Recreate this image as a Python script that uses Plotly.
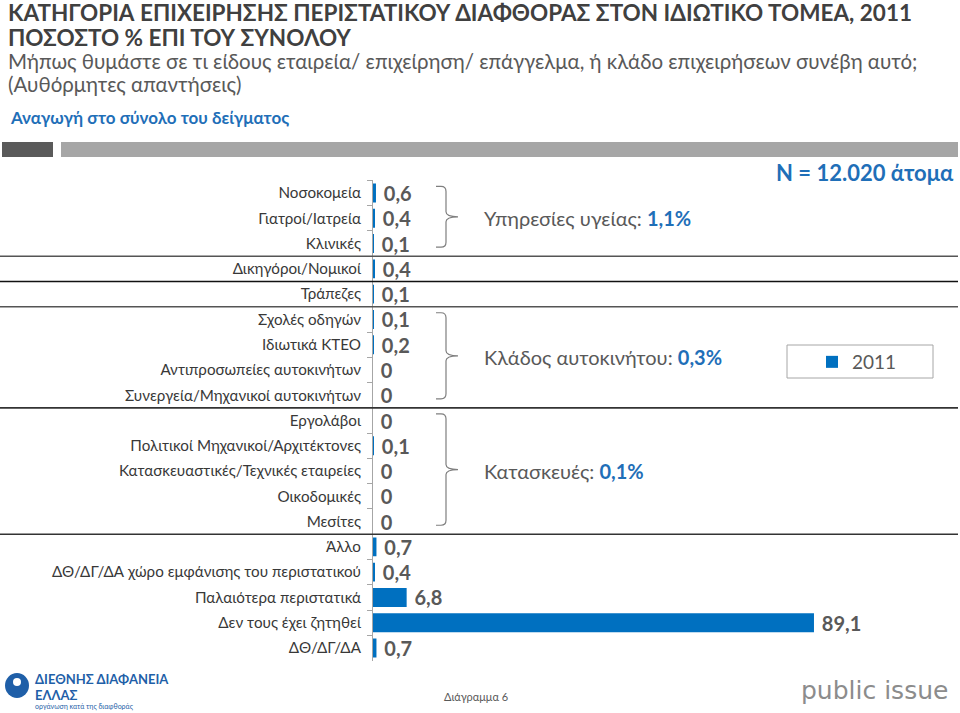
import plotly.graph_objects as go

categories = [
    "Νοσοκομεία", "Γιατροί/Ιατρεία", "Κλινικές", "Δικηγόροι/Νομικοί", "Τράπεζες",
    "Σχολές οδηγών", "Ιδιωτικά ΚΤΕΟ", "Αντιπροσωπείες αυτοκινήτων",
    "Συνεργεία/Μηχανικοί αυτοκινήτων", "Εργολάβοι", "Πολιτικοί Μηχανικοί/Αρχιτέκτονες",
    "Κατασκευαστικές/Τεχνικές εταιρείες", "Οικοδομικές", "Μεσίτες", "Άλλο",
    "ΔΘ/ΔΓ/ΔΑ χώρο εμφάνισης του περιστατικού", "Παλαιότερα περιστατικά",
    "Δεν τους έχει ζητηθεί", "ΔΘ/ΔΓ/ΔΑ",
]
values_2011 = [0.6, 0.4, 0.1, 0.4, 0.1, 0.1, 0.2, 0, 0, 0, 0.1, 0, 0, 0, 0.7, 0.4, 6.8, 89.1, 0.7]
series_name = "2011"

groups = [
    # (first row, last row, label, total)
    (0, 2, "Υπηρεσίες υγείας: ", "1,1%"),
    (5, 8, "Κλάδος αυτοκινήτου: ", "0,3%"),
    (9, 13, "Κατασκευές: ", "0,1%"),
]
separators = [2.5, 3.5, 4.5, 8.5, 13.5]
separator_colors = ["#555555", "#111111", "#555555", "#333333", "#333333"]

W, H = 960, 713
FONT = "Lato"
BLUE = "#0070C0"
GREY = "#595959"

# layout geometry (pixels)
TOP, BOT = 180.4, 660.6
X0, X1 = 373, 958
n = len(categories)
rowh = (BOT - TOP) / n


def px(x):
    return x / W


def py(y):
    return 1 - y / H


def fmt(v):
    return "0" if v == 0 else f"{v:.1f}".replace(".", ",")


fig = go.Figure()
fig.add_trace(go.Bar(
    y=categories, x=values_2011, orientation="h", name=series_name,
    marker=dict(color=BLUE, line=dict(width=0)),
    text=["\u00a0" + fmt(v) for v in values_2011], textposition="outside",
    textfont=dict(family=FONT, size=20, color=GREY, weight="bold"),
    constraintext="none", cliponaxis=False,
))

shapes = []
# top grey bars
shapes.append(dict(type="rect", xref="paper", yref="paper", x0=px(2), x1=px(53),
                   y0=py(157), y1=py(142), fillcolor="#5A5A5A", line=dict(width=0)))
shapes.append(dict(type="rect", xref="paper", yref="paper", x0=px(61), x1=px(958),
                   y0=py(157), y1=py(142), fillcolor="#A6A6A6", line=dict(width=0)))
# separators
for s, c in zip(separators, separator_colors):
    shapes.append(dict(type="line", xref="paper", yref="y", x0=0, x1=px(958), y0=s, y1=s,
                       line=dict(color=c, width=1.6)))

annotations = []
# braces
for (r0, r1, lab, tot) in groups:
    yt = TOP + r0 * rowh + 6
    yb = TOP + (r1 + 1) * rowh - 9
    ym = (yt + yb) / 2
    xa, xb, xt = 436, 446, 458
    r = 5
    pts = (f"M {px(xa)},{py(yt)} L {px(xb - r)},{py(yt)} "
           f"Q {px(xb)},{py(yt)} {px(xb)},{py(yt + r)} "
           f"L {px(xb)},{py(ym - r)} Q {px(xb)},{py(ym)} {px(xt)},{py(ym)} "
           f"Q {px(xb)},{py(ym)} {px(xb)},{py(ym + r)} "
           f"L {px(xb)},{py(yb - r)} Q {px(xb)},{py(yb)} {px(xb - r)},{py(yb)} "
           f"L {px(xa)},{py(yb)}")
    shapes.append(dict(type="path", xref="paper", yref="paper", path=pts,
                       line=dict(color="#7F7F7F", width=1.2)))
    annotations.append(dict(xref="paper", yref="paper", x=px(482), y=py(ym + 1),
                            xanchor="left", yanchor="middle", showarrow=False,
                            text=f"{lab}<span style='color:#1F6FB8;font-weight:bold'>{tot}</span>",
                            font=dict(family=FONT, size=20, color=GREY)))

# legend frame
shapes.append(dict(type="rect", xref="paper", yref="paper", x0=px(787), x1=px(933),
                   y0=py(378), y1=py(345), line=dict(color="#A6A6A6", width=1),
                   fillcolor="white", layer="below"))

# titles
annotations += [
    dict(xref="paper", yref="paper", x=px(6), y=py(12), xanchor="left", yanchor="middle",
         text="<b>ΚΑΤΗΓΟΡΙΑ ΕΠΙΧΕΙΡΗΣΗΣ ΠΕΡΙΣΤΑΤΙΚΟΥ ΔΙΑΦΘΟΡΑΣ ΣΤΟΝ ΙΔΙΩΤΙΚΟ ΤΟΜΕΑ, 2011</b>",
         showarrow=False, font=dict(family=FONT, size=22.5, color="#404040")),
    dict(xref="paper", yref="paper", x=px(6), y=py(38), xanchor="left", yanchor="middle",
         text="<b>ΠΟΣΟΣΤΟ % ΕΠΙ ΤΟΥ ΣΥΝΟΛΟΥ</b>",
         showarrow=False, font=dict(family=FONT, size=22.5, color="#404040")),
    dict(xref="paper", yref="paper", x=px(6), y=py(61), xanchor="left", yanchor="middle",
         text="Μήπως θυμάστε σε τι είδους εταιρεία/ επιχείρηση/ επάγγελμα, ή κλάδο επιχειρήσεων συνέβη αυτό;",
         showarrow=False, font=dict(family=FONT, size=20.5, color=GREY)),
    dict(xref="paper", yref="paper", x=px(6), y=py(84), xanchor="left", yanchor="middle",
         text="(Αυθόρμητες απαντήσεις)",
         showarrow=False, font=dict(family=FONT, size=20.5, color=GREY)),
    dict(xref="paper", yref="paper", x=px(8), y=py(118), xanchor="left", yanchor="middle",
         text="<b>Αναγωγή στο σύνολο του δείγματος</b>",
         showarrow=False, font=dict(family=FONT, size=17, color="#1F6FB8")),
    dict(xref="paper", yref="paper", x=px(956), y=py(172), xanchor="right", yanchor="middle",
         text="<b>N = 12.020 άτομα</b>",
         showarrow=False, font=dict(family=FONT, size=22, color="#1F6FB8")),
    dict(xref="paper", yref="paper", x=px(476), y=py(696), xanchor="center", yanchor="middle",
         text="Διάγραμμα 6", showarrow=False, font=dict(family=FONT, size=11, color=GREY)),
    dict(xref="paper", yref="paper", x=px(33), y=py(679), xanchor="left", yanchor="middle",
         text="<b>ΔΙΕΘΝΗΣ ΔΙΑΦΑΝΕΙΑ</b>", showarrow=False,
         font=dict(family=FONT, size=13, color="#1F5FA8")),
    dict(xref="paper", yref="paper", x=px(33), y=py(694.5), xanchor="left", yanchor="middle",
         text="<b>ΕΛΛΑΣ</b>", showarrow=False,
         font=dict(family=FONT, size=13, color="#1F5FA8")),
    dict(xref="paper", yref="paper", x=px(33), y=py(706.5), xanchor="left", yanchor="middle",
         text="οργάνωση κατά της διαφθοράς", showarrow=False,
         font=dict(family=FONT, size=7, color="#1F5FA8")),
    dict(xref="paper", yref="paper", x=px(950), y=py(690), xanchor="right", yanchor="middle",
         text="public issue", showarrow=False,
         font=dict(family="DejaVu Sans", size=25, color="#8C8C8C")),
]
# logo circle
shapes.append(dict(type="circle", xref="paper", yref="paper", x0=px(5), x1=px(29),
                   y0=py(698), y1=py(673), fillcolor="#1F5FA8", line=dict(width=0)))
shapes.append(dict(type="circle", xref="paper", yref="paper", x0=px(13), x1=px(21),
                   y0=py(686), y1=py(678), fillcolor="white", line=dict(width=0)))

fig.update_layout(
    width=W, height=H, margin=dict(l=0, r=0, t=0, b=0),
    paper_bgcolor="white", plot_bgcolor="white",
    bargap=0.25, showlegend=True,
    legend=dict(x=px(812), y=py(362), xanchor="left", yanchor="middle",
                bgcolor="rgba(0,0,0,0)", borderwidth=0,
                font=dict(family=FONT, size=19, color=GREY),
                itemwidth=30),
    xaxis=dict(domain=[px(X0), px(X1)], range=[0, 118.2], visible=False, fixedrange=True),
    yaxis=dict(domain=[py(BOT), py(TOP)],
               autorange="reversed", categoryorder="array", categoryarray=categories,
               showline=True, linecolor="#A6A6A6", linewidth=1,
               ticks="outside", tickson="boundaries", ticklen=5, tickcolor="#A6A6A6",
               ticklabelstandoff=8, showgrid=False,
               tickfont=dict(family=FONT, size=15.2, color="#383838")),
    shapes=shapes, annotations=annotations,
    font=dict(family=FONT),
)

fig.write_html("out.html")
